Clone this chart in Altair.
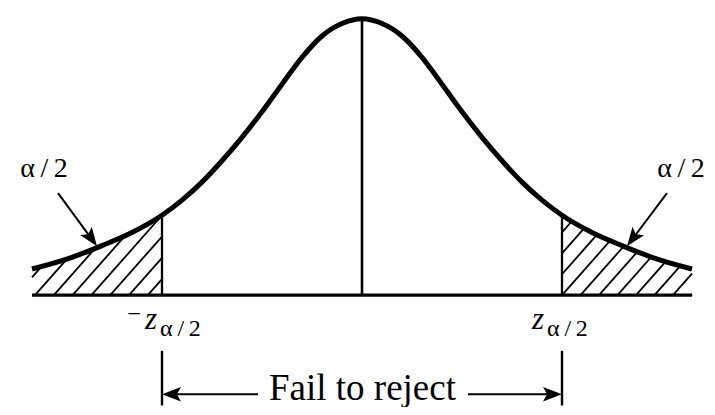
import math
import altair as alt
import numpy as np
import pandas as pd

# ---- values (x in z units, y in density units) ----
curve_x = [-3.3, -2.9, -2.6, -2.3, -2.0, -1.8, -1.6, -1.4, -1.2, -1.0, -0.8, -0.6, -0.4, -0.2, 0.0,
           0.2, 0.4, 0.6, 0.8, 1.0, 1.2, 1.4, 1.6, 1.8, 2.0, 2.3, 2.6, 2.9, 3.3]
curve_y = [0.038, 0.055, 0.072, 0.091, 0.116, 0.138, 0.164, 0.195, 0.229, 0.266, 0.306, 0.345, 0.376, 0.394, 0.401,
           0.394, 0.376, 0.345, 0.306, 0.266, 0.229, 0.195, 0.164, 0.138, 0.116, 0.091, 0.072, 0.055, 0.038]

z_crit = [-2.0, 2.0]          # -z_{alpha/2}, z_{alpha/2}
x_ends = [-3.3, 3.3]          # ends of the drawn axis / curve
peak_y = 0.401

# annotation arrows alpha/2 : start -> tip
alpha_arrow_start = [(-3.04, 0.148), (3.05, 0.148)]
alpha_arrow_tip = [(-2.65, 0.071), (2.65, 0.071)]
alpha_label_pos = [(-3.18, 0.172), (3.19, 0.171)]
alpha_label_text = ["α\u2009/\u20092", "α\u2009/\u20092"]

# critical value labels
z_main_pos = [(-2.17, -0.0493), (1.70, -0.0493)]
z_sub_pos = [(-2.02, -0.0593), (1.85, -0.0593)]
z_sub_text = ["α\u2009/\u20092", "α\u2009/\u20092"]
minus_pos = (-2.28, -0.0393)

fail_text = "Fail to reject"
fail_text_pos = (0.005, -0.1514)
fail_arrow_y = -0.1436
fail_arrow_inner = [-1.04, 1.06]   # where the arrow lines meet the text
tick_top = -0.0807
tick_bottom = -0.160

# ---- scales (1 x-unit = 100 px, 1 y-unit = 700 px) ----
XPX, YPX = 100.0, 700.0
xdom = [-3.54, 3.45]
ydom = [-0.16214, 0.40786]
W, H = 699, 399
FONT = "Liberation Serif"

X = lambda f, **k: alt.X(f, scale=alt.Scale(domain=xdom, nice=False, zero=False), axis=None, **k)
Y = lambda f, **k: alt.Y(f, scale=alt.Scale(domain=ydom, nice=False, zero=False), axis=None, **k)


def curve(x):
    return float(np.interp(x, curve_x, curve_y))


# ---- hatch lines in the two tails ----
slope = 1.15 * XPX / YPX      # 1.15 px rise per px run
hatch = []


def hatch_region(xa, xb, first, step):
    c = first - 3 * step
    while c < xb:
        x0 = max(c, xa)
        y0 = slope * (x0 - c)
        if y0 < curve(x0):
            if slope * (xb - c) <= curve(xb):
                x1 = xb
            else:
                lo, hi = x0, xb
                for _ in range(60):
                    m = 0.5 * (lo + hi)
                    if slope * (m - c) < curve(m):
                        lo = m
                    else:
                        hi = m
                x1 = lo
            hatch.append({"x": x0, "y": y0, "x2": x1, "y2": slope * (x1 - c)})
        c += step


hatch_region(x_ends[0], z_crit[0], -3.27, 0.188)
hatch_region(z_crit[1], x_ends[1], 2.0, 0.185)
hatch_df = pd.DataFrame(hatch)

# ---- structural segments ----
segs = pd.DataFrame([
    {"x": x_ends[0], "y": 0.0, "x2": x_ends[1], "y2": 0.0, "w": 3.2},          # baseline
    {"x": 0.0, "y": 0.0, "x2": 0.0, "y2": peak_y, "w": 2.6},                   # centre line
    {"x": z_crit[0], "y": 0.0, "x2": z_crit[0], "y2": curve(z_crit[0]), "w": 2.3},
    {"x": z_crit[1], "y": 0.0, "x2": z_crit[1], "y2": curve(z_crit[1]), "w": 2.3},
    {"x": z_crit[0], "y": tick_top, "x2": z_crit[0], "y2": tick_bottom, "w": 2.4},
    {"x": z_crit[1], "y": tick_top, "x2": z_crit[1], "y2": tick_bottom, "w": 2.4},
])

# ---- arrows ----
HEAD = 19.0
arrow_lines, heads = [], []


def add_arrow(start, tip):
    dxp = (tip[0] - start[0]) * XPX
    dyp = -(tip[1] - start[1]) * YPX
    L = math.hypot(dxp, dyp)
    ux, uy = dxp / L, dyp / L
    back = 0.6 * HEAD
    ex = tip[0] - ux * back / XPX
    ey = tip[1] + uy * back / YPX
    arrow_lines.append({"x": start[0], "y": start[1], "x2": ex, "y2": ey})
    ang = math.degrees(math.atan2(dyp, dxp)) % 360
    heads.append({"x": tip[0], "y": tip[1], "ang": ang})


for s, t in zip(alpha_arrow_start, alpha_arrow_tip):
    add_arrow(s, t)
add_arrow((fail_arrow_inner[0], fail_arrow_y), (z_crit[0], fail_arrow_y))
add_arrow((fail_arrow_inner[1], fail_arrow_y), (z_crit[1], fail_arrow_y))
arrow_df = pd.DataFrame(arrow_lines)
head_df = pd.DataFrame(heads)

curve_df = pd.DataFrame({"x": curve_x, "y": curve_y})

# ---- layers ----
hatch_layer = alt.Chart(hatch_df).mark_rule(color="black", strokeWidth=1.8).encode(
    x=X("x:Q"), y=Y("y:Q"), x2="x2:Q", y2="y2:Q")

seg_layer = alt.Chart(segs).mark_rule(color="black").encode(
    x=X("x:Q"), y=Y("y:Q"), x2="x2:Q", y2="y2:Q",
    strokeWidth=alt.StrokeWidth("w:Q", scale=None))

curve_layer = alt.Chart(curve_df).mark_line(
    color="black", strokeWidth=5, interpolate="monotone", strokeCap="butt").encode(
    x=X("x:Q"), y=Y("y:Q"))

arrow_layer = alt.Chart(arrow_df).mark_rule(color="black", strokeWidth=2).encode(
    x=X("x:Q"), y=Y("y:Q"), x2="x2:Q", y2="y2:Q")

head_layer = alt.Chart(head_df).mark_point(
    shape="M0,0 L-1,-0.38 L-0.78,0 L-1,0.38 Z", filled=True, color="black",
    opacity=1, size=(2 * HEAD) ** 2, strokeWidth=0).encode(
    x=X("x:Q"), y=Y("y:Q"), angle=alt.Angle("ang:Q", scale=None))

alpha_df = pd.DataFrame({"x": [p[0] for p in alpha_label_pos],
                         "y": [p[1] for p in alpha_label_pos],
                         "t": alpha_label_text})
alpha_layer = alt.Chart(alpha_df).mark_text(
    font=FONT, fontSize=28, align="center", baseline="alphabetic", color="black").encode(
    x=X("x:Q"), y=Y("y:Q"), text="t:N")

z_df = pd.DataFrame({"x": [p[0] for p in z_main_pos], "y": [p[1] for p in z_main_pos],
                     "t": ["z", "z"]})
z_layer = alt.Chart(z_df).mark_text(
    font=FONT, fontSize=31, fontStyle="italic", align="left", baseline="alphabetic",
    color="black").encode(x=X("x:Q"), y=Y("y:Q"), text="t:N")

sub_df = pd.DataFrame({"x": [p[0] for p in z_sub_pos], "y": [p[1] for p in z_sub_pos],
                       "t": z_sub_text})
sub_layer = alt.Chart(sub_df).mark_text(
    font=FONT, fontSize=24, align="left", baseline="alphabetic", color="black").encode(
    x=X("x:Q"), y=Y("y:Q"), text="t:N")

minus_df = pd.DataFrame({"x": [minus_pos[0]], "y": [minus_pos[1]], "t": ["−"]})
minus_layer = alt.Chart(minus_df).mark_text(
    font=FONT, fontSize=25, align="center", baseline="alphabetic", color="black").encode(
    x=X("x:Q"), y=Y("y:Q"), text="t:N")

fail_df = pd.DataFrame({"x": [fail_text_pos[0]], "y": [fail_text_pos[1]], "t": [fail_text]})
fail_layer = alt.Chart(fail_df).mark_text(
    font=FONT, fontSize=37, align="center", baseline="alphabetic", color="black").encode(
    x=X("x:Q"), y=Y("y:Q"), text="t:N")

chart = alt.layer(
    hatch_layer, seg_layer, curve_layer, arrow_layer, head_layer,
    alpha_layer, z_layer, sub_layer, minus_layer, fail_layer
).properties(
    width=W, height=H, padding=0, background="white",
    autosize=alt.AutoSizeParams(type="fit", contains="padding")
).configure_view(stroke=None)

chart.save("out.html", embed_options={"renderer": "svg", "actions": False})
